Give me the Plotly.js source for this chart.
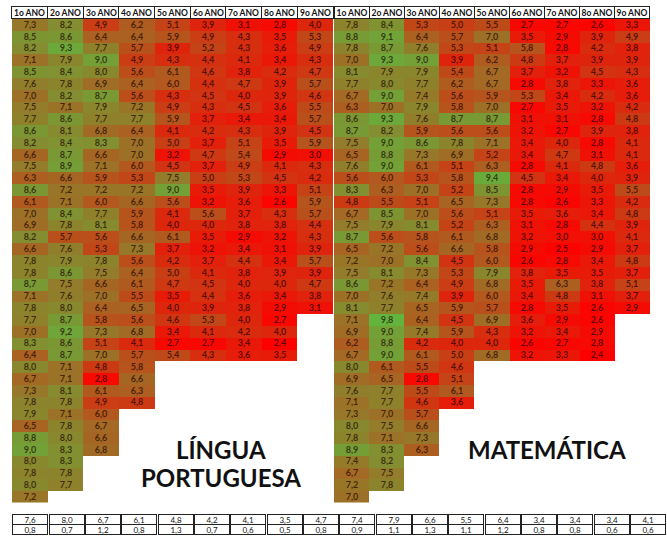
<!DOCTYPE html>
<html><head><meta charset="utf-8">
<script src="https://cdn.plot.ly/plotly-3.0.1.min.js"></script>
<style>html,body{margin:0;padding:0;background:#fff}#chart{width:667px;height:536px}</style>
</head><body><div id="chart"></div>
<script>
// Column headers
const anos = ['1o ANO','2o ANO','3o ANO','4o ANO','5o ANO','6o ANO','7o ANO','8o ANO','9o ANO'];

// Língua Portuguesa – one array per school year (column)
const lp1 = [7.3,8.5,8.2,7.1,8.5,7.6,7.0,7.5,7.7,8.6,8.2,6.6,7.5,6.3,8.6,6.1,7.0,6.9,8.2,6.6,7.8,7.8,8.7,7.1,7.8,7.7,7.0,8.3,6.4,8.0,6.7,7.3,7.8,7.9,6.5,8.8,9.0,8.0,7.8,8.0,7.2];
const lp2 = [8.2,8.6,9.3,7.9,8.4,7.8,8.2,7.1,8.6,8.1,8.4,8.7,8.9,6.6,7.2,7.1,8.4,7.8,5.7,7.6,7.9,8.6,7.5,7.6,8.0,8.7,9.2,8.6,8.7,7.1,7.1,8.1,7.8,7.1,7.8,8.0,8.3,8.3,7.8,7.7];
const lp3 = [4.9,6.4,7.7,9.0,8.0,6.9,8.7,7.9,7.7,6.8,8.3,6.6,7.1,5.9,7.2,6.0,7.7,8.1,5.6,5.3,7.8,7.5,6.6,7.0,6.4,5.8,7.3,5.1,7.0,4.8,2.8,6.1,4.9,6.0,6.7,6.6,6.8];
const lp4 = [6.2,6.4,5.7,4.9,5.6,6.4,5.6,7.2,7.7,6.4,7.0,7.0,6.0,5.3,7.2,6.6,5.9,5.8,6.6,7.3,5.6,6.4,6.1,5.5,6.5,5.6,6.8,4.1,5.7,5.8,6.6,6.3,4.8];
const lp5 = [5.1,5.9,3.9,4.3,6.1,6.0,4.3,4.9,5.9,4.1,5.0,3.2,4.5,7.5,9.0,5.6,4.1,4.0,6.1,3.7,4.2,5.0,4.7,3.5,4.0,4.6,3.4,2.7,5.4];
const lp6 = [3.9,4.9,5.2,4.4,4.6,4.4,4.5,4.3,3.7,4.2,3.7,4.7,3.7,5.0,3.5,3.2,5.6,4.0,3.5,3.2,3.7,4.1,4.5,4.4,3.9,5.3,4.1,2.7,4.3];
const lp7 = [3.1,4.3,4.3,4.1,3.8,4.7,4.0,4.5,3.4,4.3,5.1,5.4,4.9,5.3,3.9,3.6,3.7,3.8,2.9,3.4,4.4,3.8,4.0,3.6,3.8,4.0,4.2,3.4,3.6];
const lp8 = [2.8,3.5,3.6,3.4,4.2,3.9,3.9,3.6,3.4,3.9,3.5,2.9,4.1,4.5,3.3,2.6,4.3,3.8,3.2,3.1,3.4,3.9,4.0,3.4,2.9,2.7,4.0,2.4,3.5];
const lp9 = [4.0,5.3,4.9,4.3,4.7,5.7,4.6,5.5,5.7,4.5,5.9,3.0,4.3,4.2,5.1,5.9,5.7,4.4,4.3,3.9,5.7,3.9,4.7,3.8,3.1];

// Matemática – one array per school year (column)
const mt1 = [7.8,8.8,7.8,7.0,8.1,7.7,6.7,6.3,8.6,8.7,7.5,6.5,7.6,5.6,8.3,4.8,6.7,7.5,8.7,6.5,7.2,7.5,8.6,7.0,8.1,7.1,6.9,6.2,6.7,8.0,6.9,7.6,7.1,7.3,8.0,7.8,8.9,7.4,6.7,7.2,7.0];
const mt2 = [8.4,9.1,8.7,9.3,7.9,8.0,9.0,7.0,9.3,8.2,9.0,8.8,9.0,6.0,6.3,5.5,8.5,7.9,5.6,7.2,7.0,8.1,7.2,7.6,7.7,9.8,9.0,8.8,9.0,6.1,6.5,7.7,7.7,7.0,7.5,7.1,8.3,8.2,7.5,7.8];
const mt3 = [5.3,6.4,7.6,9.0,7.9,7.7,7.4,7.9,7.6,5.9,8.6,7.3,6.1,5.3,7.0,5.1,7.0,8.1,5.8,5.6,8.4,7.3,6.4,7.4,6.5,6.4,7.4,4.2,6.1,5.5,2.8,5.5,4.6,5.7,6.6,7.3,6.3];
const mt4 = [5.0,5.7,5.3,3.9,5.4,6.2,5.6,5.8,8.7,5.6,7.8,6.9,5.1,5.8,5.2,6.5,5.6,5.2,6.1,6.6,4.5,5.3,4.9,3.9,5.9,4.5,5.9,4.0,5.0,4.6,5.1,6.1,3.6];
const mt5 = [5.5,7.0,5.1,6.2,6.7,6.7,5.9,7.0,8.7,5.6,7.1,5.2,6.3,9.4,8.5,7.3,5.1,6.3,6.8,5.8,6.0,7.9,6.8,6.0,5.7,6.9,4.3,4.0,6.8];
const mt6 = [2.7,3.5,5.8,4.8,3.7,2.8,5.3,2.7,3.1,3.2,3.4,3.4,2.8,4.5,2.8,2.8,3.5,3.1,3.2,2.9,2.6,3.8,3.5,3.4,2.8,3.6,3.2,2.6,3.2];
const mt7 = [2.7,2.9,2.8,3.7,3.2,3.8,3.4,3.5,3.1,2.7,4.0,4.7,4.1,3.4,2.9,2.6,3.6,2.8,3.0,2.5,2.8,3.5,6.3,4.8,3.5,2.9,3.4,2.7,3.3];
const mt8 = [2.6,3.9,4.2,3.9,4.5,3.3,4.2,3.2,2.8,3.9,2.8,3.1,4.8,4.0,3.5,3.3,3.4,4.4,3.0,2.9,3.4,3.5,3.8,3.1,2.6,2.6,2.9,2.8,2.4];
const mt9 = [3.3,4.9,3.8,3.9,4.3,3.6,3.6,4.2,4.8,3.8,4.1,4.1,3.6,3.9,5.5,4.2,4.8,3.9,4.1,3.7,4.8,3.7,5.1,3.7,2.9];

// Summary rows (mean and standard deviation as printed)
const lpMedia = [7.6,8.0,6.7,6.1,4.8,4.2,4.1,3.5,4.7];
const lpDesvio = [0.8,0.7,1.2,0.8,1.3,0.7,0.6,0.5,0.8];
const mtMedia = [7.4,7.9,6.6,5.5,6.4,3.4,3.4,3.4,4.1];
const mtDesvio = [0.9,1.1,1.3,1.1,1.2,0.8,0.8,0.6,0.6];

const fmt = v => (v === null || v === undefined) ? '' : v.toFixed(1).replace('.', ',');

function buildGrid(cols) {
  const nRows = Math.max(...cols.map(c => c.length));
  const z = [], t = [];
  for (let r = 0; r < nRows; r++) {
    const zr = [], tr = [];
    for (let c = 0; c < cols.length; c++) {
      const v = r < cols[c].length ? cols[c][r] : null;
      zr.push(v); tr.push(fmt(v));
    }
    z.push(zr); t.push(tr);
  }
  return {z, t, nRows};
}

const lpGrid = buildGrid([lp1,lp2,lp3,lp4,lp5,lp6,lp7,lp8,lp9]);
const mtGrid = buildGrid([mt1,mt2,mt3,mt4,mt5,mt6,mt7,mt8,mt9]);
const nRows = Math.max(lpGrid.nRows, mtGrid.nRows);
const rowIdx = Array.from({length: nRows}, (_, i) => i);
const colIdx = anos.map((_, i) => i);

const cscale = [[0, '#FF0000'], [1, '#62B43E']];
const zmin = 2.4, zmax = 9.8;
const cellFont = {family: 'Lato, sans-serif', size: 9, color: 'rgba(20,0,0,0.68)', weight: 'bold'};

const W = 667, H = 536;
const px = x => x / W;
const py = y => 1 - y / H;

const traces = [
  {type: 'heatmap', x: colIdx, y: rowIdx, z: lpGrid.z, text: lpGrid.t, texttemplate: '%{text}',
   textfont: cellFont, colorscale: cscale, zmin, zmax, showscale: false, xaxis: 'x', yaxis: 'y', hoverinfo: 'skip'},
  {type: 'heatmap', x: colIdx, y: rowIdx, z: mtGrid.z, text: mtGrid.t, texttemplate: '%{text}',
   textfont: cellFont, colorscale: cscale, zmin, zmax, showscale: false, xaxis: 'x2', yaxis: 'y', hoverinfo: 'skip'}
];

const annotations = [];
const boxBase = {showarrow: false, bordercolor: '#222', borderwidth: 1, borderpad: 0, bgcolor: '#fff',
                 xanchor: 'center', yanchor: 'middle', align: 'center', valign: 'middle'};
// Header cells placed on each heatmap's own column axis
[['x', 35.0], ['x2', 34.1]].forEach(([ax, w]) => {
  anos.forEach((lab, i) => {
    annotations.push(Object.assign({}, boxBase, {xref: ax, x: i, yref: 'paper', y: py(12.5), text: lab,
      width: w, height: 11, font: {family: 'Lato, sans-serif', size: 8.5, color: '#111', weight: 'bold'}}));
  });
});
// Summary table: means (row 0) and std devs (row 1) on their own axis pair
const mediaAll = lpMedia.concat(mtMedia);
const desvioAll = lpDesvio.concat(mtDesvio);
[mediaAll, desvioAll].forEach((arr, r) => {
  arr.forEach((v, i) => {
    annotations.push(Object.assign({}, boxBase, {xref: 'x3', x: i, yref: 'y3', y: r, text: fmt(v),
      width: 34.4, height: 9.2, font: {family: 'Lato, sans-serif', size: 8, color: '#111'}}));
  });
});
// Subject titles
const titleFont = {family: 'Lato, sans-serif', size: 24, color: '#111', weight: 'bold'};
const tBase = {xref: 'paper', yref: 'paper', showarrow: false, font: titleFont, xanchor: 'center', yanchor: 'middle'};
annotations.push(Object.assign({}, tBase, {x: px(221), y: py(449), text: 'LÍNGUA'}));
annotations.push(Object.assign({}, tBase, {x: px(221), y: py(477), text: 'PORTUGUESA'}));
annotations.push(Object.assign({}, tBase, {x: px(547), y: py(449), text: 'MATEMÁTICA'}));

const axisOff = {visible: false, showgrid: false, zeroline: false, fixedrange: true};
const layout = {
  width: W, height: H,
  margin: {l: 0, r: 0, t: 0, b: 0},
  paper_bgcolor: '#fff', plot_bgcolor: 'rgba(0,0,0,0)',
  showlegend: false,
  xaxis: Object.assign({domain: [px(12), px(333)], range: [-0.5, 8.5], anchor: 'y'}, axisOff),
  xaxis2: Object.assign({domain: [px(334), px(650)], range: [-0.5, 8.5], anchor: 'y'}, axisOff),
  yaxis: Object.assign({domain: [py(502.6), py(19)], range: [nRows - 0.5, -0.5], anchor: 'x'}, axisOff),
  xaxis3: Object.assign({domain: [px(12), px(666)], range: [-0.5, 17.5], anchor: 'y3'}, axisOff),
  yaxis3: Object.assign({domain: [py(535), py(514.5)], range: [1.5, -0.5], anchor: 'x3'}, axisOff),
  annotations
};

Plotly.newPlot('chart', traces, layout, {displayModeBar: false, staticPlot: true});
</script></body></html>
